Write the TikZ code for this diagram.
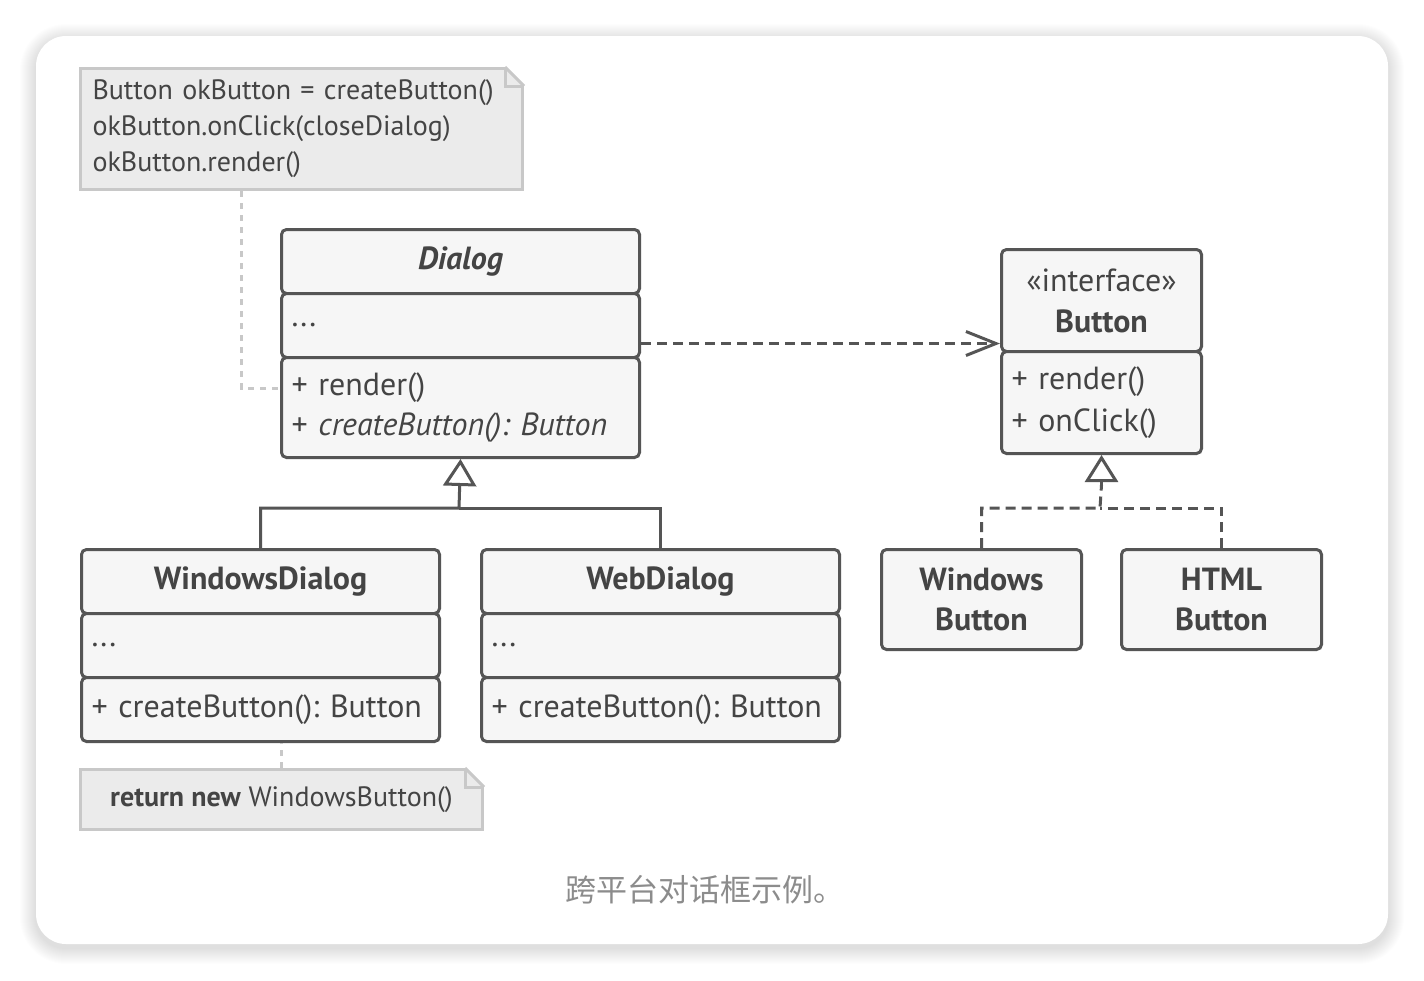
\documentclass[tikz,border=0pt]{standalone}
\usepackage{fontspec}
\setmainfont{PT Sans}
\newfontfamily\cjk{Noto Sans CJK SC}
\usetikzlibrary{arrows.meta}
\definecolor{boxline}{HTML}{555555}
\definecolor{boxfill}{HTML}{F6F6F6}
\definecolor{notefill}{HTML}{EBEBEB}
\definecolor{notegray}{HTML}{C8C8C8}
\definecolor{textgray}{HTML}{444444}
\definecolor{capgray}{HTML}{8C8C8C}
\frenchspacing

\begin{document}
\begin{tikzpicture}[x=1pt,y=-1pt]
        \tikzset{part/.style = {shape=rectangle,draw=boxline,fill=boxfill,line width=3,rounded corners=5,inner xsep=10,inner ysep=0,text=textgray,font=\fontsize{32}{40}\selectfont,anchor=north west}};
        \tikzset{title/.style = {part,align=center}};
        \tikzset{body/.style = {part,align=left,text width=#1}};
        \tikzset{note/.style = {shape=rectangle,draw=notegray,fill=notefill,line width=3,inner xsep=12,inner ysep=0,text=textgray,anchor=north west}};
        \tikzset{link/.style = {draw=boxline,line width=3}};
        \tikzset{gen/.style = {link,-{Triangle[open,length=27pt,width=33pt]}}};
        \tikzset{dashlink/.style = {link,dash pattern=on 10pt off 6pt}};
        \tikzset{dep/.style = {dashlink,-{Straight Barb[length=30pt,width=24pt]}}};
        \tikzset{notelink/.style = {draw=notegray,line width=3,dash pattern=on 6pt off 6pt}};

        \useasboundingbox[fill=white] (0,0) rectangle (1424,980);
        \foreach \i in {1,...,16}
            \fill[black,opacity=0.009,rounded corners=30+\i] ({36-\i},{40-\i}) rectangle ({1388+\i},{948+\i});
        \fill[white,rounded corners=30] (36,36) rectangle (1388,944);

        \node[title,minimum width=358,minimum height=64] (dlgh) at (280,228) {\bfseries\itshape Dialog};
        \node[body=338,minimum height=64] (dlga) at (280,292) {...};
        \node[body=338,minimum height=100] (dlgm) at (280,356) {+ render()\\+ \textit{createButton(): Button}};

        \node[title,minimum width=200,minimum height=102,font=\fontsize{32}{41}\selectfont] (btnh) at (1000,248) {«interface»\\\textbf{Button}};
        \node[body=180,minimum height=102,font=\fontsize{32}{42}\selectfont] (btnm) at (1000,350) {+ render()\\+ onClick()};

        \node[title,minimum width=358,minimum height=64] (wdh) at (80,548) {\textbf{WindowsDialog}};
        \node[body=338,minimum height=64] (wda) at (80,612) {...};
        \node[body=338,minimum height=64] (wdm) at (80,676) {+ createButton(): Button};

        \node[title,minimum width=358,minimum height=64] (wbh) at (480,548) {\textbf{WebDialog}};
        \node[body=338,minimum height=64] (wba) at (480,612) {...};
        \node[body=338,minimum height=64] (wbm) at (480,676) {+ createButton(): Button};

        \node[title,minimum width=200,minimum height=100] (wbtn) at (880,548) {\textbf{Windows}\\\textbf{Button}};
        \node[title,minimum width=200,minimum height=100] (hbtn) at (1120,548) {\textbf{HTML}\\\textbf{Button}};

        \node[note,minimum width=442,minimum height=121,text width=418,align=left,font=\fontsize{28}{36}\selectfont] (n1) at (79,67) {Button okButton = createButton()\\okButton.onClick(closeDialog)\\okButton.render()};
        \node[note,minimum width=402,minimum height=60,align=center,font=\fontsize{28}{36}\selectfont] (n2) at (79,768) {\textbf{return new} WindowsButton()};
        \foreach \n in {n1,n2} {
            \fill[white] ([xshift=-22,yshift=3]\n.north east) -- ([xshift=3,yshift=3]\n.north east) -- ([xshift=3,yshift=-22]\n.north east) -- cycle;
            \draw[notegray,line width=3] ([xshift=-19]\n.north east) -- ([yshift=-19]\n.north east);
            \draw[notegray,line width=3] ([xshift=-19]\n.north east) |- ([yshift=-19]\n.north east);
        }

        \coordinate (dfork) at (459,508);
        \coordinate (ifork) at (1100,508);
        \draw[gen] (wdh.north) |- (dfork) -- (dlgm.south);
        \draw[link] (wbh.north) |- (dfork);
        \draw[dashlink] (wbtn.north) |- (ifork) -- ([yshift=-30]btnm.south);
        \draw[dashlink] (hbtn.north) |- (ifork);
        \draw[gen,solid] ([yshift=-30]btnm.south) -- (btnm.south);
        \draw[dep] ([yshift=-18]dlga.east) -- ([yshift=-18]dlga.east -| btnh.west);
        \draw[notelink] ([xshift=-60]n1.south) |- ([yshift=19]dlgm.west);
        \draw[notelink] (n2.north) -- (n2.north |- wdm.south);

        \node[font=\cjk\fontsize{31}{31}\selectfont,text=capgray] (cap) at (705,890) {跨平台对话框示例。};
    \end{tikzpicture}
\end{document}
